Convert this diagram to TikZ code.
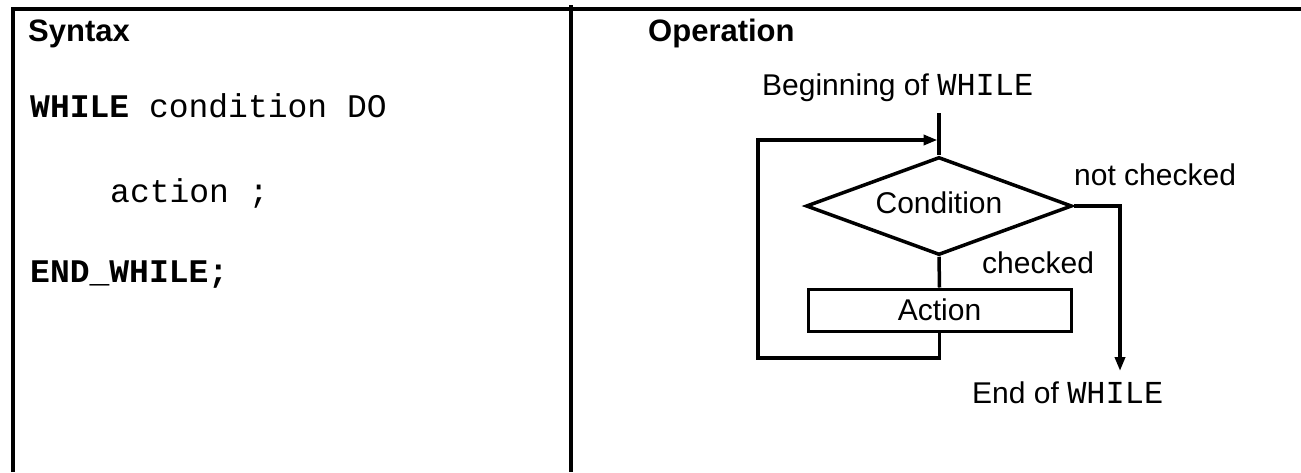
\documentclass[tikz,border=0pt]{standalone}
\usepackage{fontspec}
\setmainfont{Liberation Sans}
\setmonofont{Liberation Mono}
\usetikzlibrary{shapes.geometric,arrows.meta}
\begin{document}
\begin{tikzpicture}[x=1pt,y=-1pt,
  frame/.style={line width=3.5pt},
  flow/.style={line width=3.5pt},
  tip/.style={-{Triangle[length=14pt,width=10pt]}},
  head/.style={font=\fontsize{31}{36}\selectfont\bfseries,anchor=base west,inner sep=0pt},
  code/.style={font=\fontsize{33}{38}\selectfont\ttfamily,anchor=base west,inner sep=0pt},
  lbl/.style={font=\fontsize{30}{36}\selectfont,anchor=base west,inner sep=0pt},
  decision/.style={diamond,draw,line width=3.5pt,aspect=2.7,minimum width=266pt,minimum height=98pt,inner sep=0pt,font=\fontsize{30}{36}\selectfont},
  actbox/.style={rectangle,draw,line width=3pt,minimum width=263pt,minimum height=42pt,inner sep=0pt,font=\fontsize{30}{36}\selectfont}
]
\useasboundingbox (0,0) rectangle (1301,472);
% frame
\coordinate (fbl) at (13,472);
\coordinate (ftl) at (13,9);
\coordinate (ftr) at (1301,9);
\coordinate (dt) at (571,5);
\coordinate (db) at (571,472);
\draw[frame] (fbl) -- (ftl) -- (ftr);
\draw[frame] (dt) -- (db);
% left column
\node[head] (syn) at (28,41) {Syntax};
\node[code] (c1) at (30,117) {\textbf{WHILE} condition DO};
\node[code] (c2) at (110,202) {action ;};
\node[code] (c3) at (30,282) {\textbf{END\_WHILE;}};
% right column
\node[head] (op) at (648,41) {Operation};
\node[lbl] (beg) at (762,95) {Beginning of {\fontsize{32}{36}\selectfont\ttfamily WHILE}};
\node[decision] (cond) at (939,206) {\raisebox{6pt}{Condition}};
\node[actbox] (act) at (939.5,310) {Action};
\node[lbl] (nc) at (1074,185) {not checked};
\node[lbl] (ch) at (982,273) {checked};
\node[lbl] (endw) at (972,403) {End of {\fontsize{32}{36}\selectfont\ttfamily WHILE}};
% connectors
\coordinate (top) at (939,113);
\coordinate (loopTR) at (937.5,140);
\coordinate (loopTL) at (758,140);
\coordinate (loopBL) at (758,358);
\coordinate (exitEnd) at (1120,371);
\draw[flow] (top) -- (cond.north);
\draw[flow] (cond.south) -- (act.north);
\draw[flow,tip] (act.south) |- (loopBL) -- (loopTL) -- (loopTR);
\draw[flow,tip] (cond.east) -| (exitEnd);
\end{tikzpicture}
\end{document}
